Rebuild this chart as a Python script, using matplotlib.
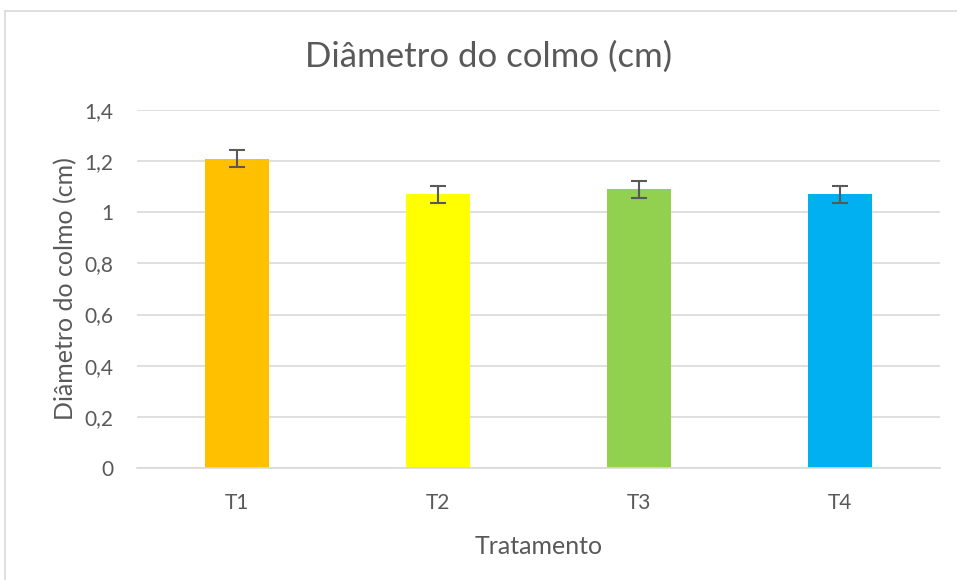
import numpy as np
import matplotlib.pyplot as plt
from matplotlib.lines import Line2D

# data
tratamentos = ['T1', 'T2', 'T3', 'T4']
diametro = [1.21, 1.07, 1.09, 1.07]
erro = [0.033, 0.033, 0.033, 0.033]
cores = ['#FFC000', '#FFFF00', '#92D050', '#00B0F0']
yticks = [0, 0.2, 0.4, 0.6, 0.8, 1.0, 1.2, 1.4]
ytick_labels = ['0', '0,2', '0,4', '0,6', '0,8', '1', '1,2', '1,4']

plt.rcParams['font.family'] = ['Lato', 'DejaVu Sans']
txt = '#595959'

fig = plt.figure(figsize=(9.57, 5.8), dpi=100)
ax = fig.add_axes([137/957, 1 - 468/580, (940-137)/957, (468-110)/580])

x = np.arange(len(tratamentos))
ax.bar(x, diametro, width=0.32, color=cores, zorder=2)
ax.errorbar(x, diametro, yerr=erro, fmt='none', ecolor='#595959',
            elinewidth=1.5, capsize=6, capthick=1.5, zorder=3)

ax.set_xlim(-0.5, len(tratamentos) - 0.5)
ax.set_ylim(0, 1.4)
ax.set_yticks(yticks)
ax.set_yticklabels(ytick_labels)
ax.set_xticks(x)
ax.set_xticklabels(tratamentos)
ax.tick_params(axis='both', length=0, labelsize=15, colors=txt)
ax.tick_params(axis='y', pad=17)
ax.tick_params(axis='x', pad=18)
ax.grid(axis='y', color='#D9D9D9', lw=1.2, zorder=0)
for s in ['top', 'right', 'left']:
    ax.spines[s].set_visible(False)
ax.spines['bottom'].set_color('#D9D9D9')
ax.spines['bottom'].set_linewidth(1.2)

ax.set_xlabel('Tratamento', fontsize=18, color=txt, labelpad=16)
ax.set_ylabel('Diâmetro do colmo (cm)', fontsize=18, color=txt, labelpad=5)
fig.text(489/957, 1 - 57/580, 'Diâmetro do colmo (cm)', fontsize=25,
         color=txt, ha='center', va='center')

# chart area border (left and top edges visible)
fig.add_artist(Line2D([5/957, 5/957], [0, 1 - 11/580], color='#D9D9D9', lw=1.2,
                      transform=fig.transFigure))
fig.add_artist(Line2D([5/957, 1], [1 - 11/580, 1 - 11/580], color='#D9D9D9', lw=1.2,
                      transform=fig.transFigure))

fig.savefig('out.png', dpi=100)
